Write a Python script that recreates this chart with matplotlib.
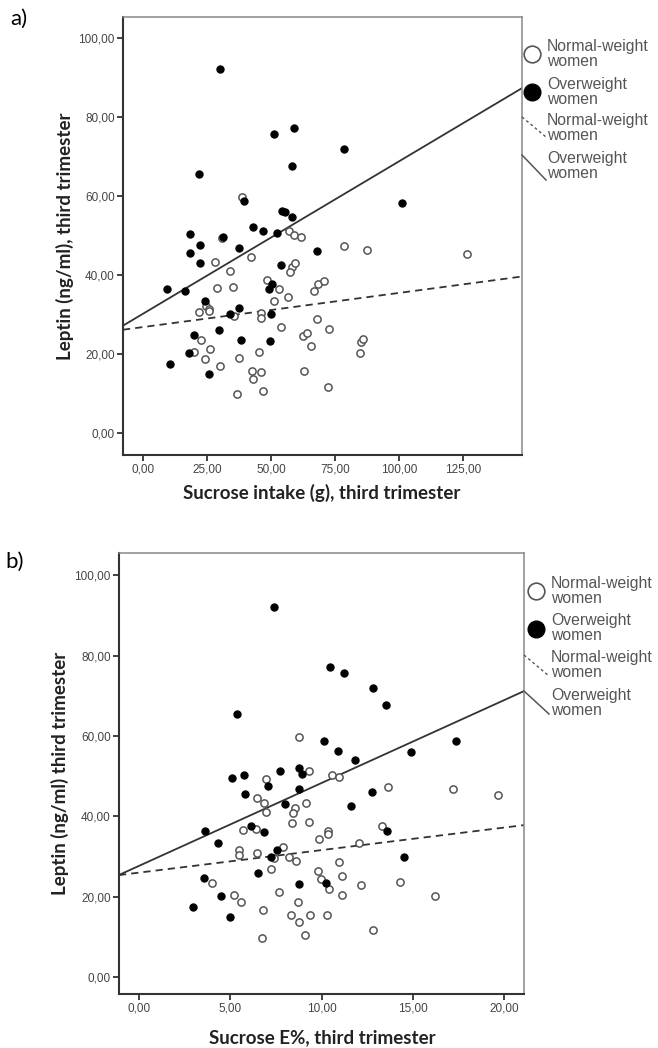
import matplotlib
matplotlib.use("Agg")
import numpy as np
from matplotlib import pyplot as plt
from matplotlib.lines import Line2D
from matplotlib.ticker import FuncFormatter

# panel a) sucrose intake (g) vs leptin
a_normal_x = [38.7, 56.8, 59.0, 61.6, 42.0, 78.5, 28.1, 87.4, 126.3, 33.7, 58.0, 59.1, 57.3,
              28.7, 35.0, 48.4, 53.0, 51.2, 56.4, 68.4, 70.5, 66.8, 24.5, 25.5, 25.7, 21.6,
              35.5, 46.1, 46.1, 53.7, 67.7, 72.4, 62.3, 63.8, 65.7, 22.7, 85.0, 86.0, 84.8,
              19.7, 26.2, 45.1, 24.2, 37.5, 29.8, 42.3, 46.0, 62.8, 42.7, 72.1, 36.8, 46.9, 30.6]
a_normal_y = [59.8, 51.2, 50.1, 49.7, 44.6, 47.4, 43.2, 46.4, 45.3, 41.1, 42.1, 43.1, 40.8,
              36.8, 36.9, 38.7, 36.4, 33.4, 34.5, 37.8, 38.5, 35.8, 32.2, 31.4, 30.8, 30.6,
              29.6, 30.3, 29.0, 26.8, 28.8, 26.4, 24.6, 25.2, 22.0, 23.4, 22.9, 23.8, 20.3,
              20.4, 21.3, 20.6, 18.7, 18.9, 16.9, 15.6, 15.5, 15.6, 13.7, 11.7, 9.9, 10.5, 49.3]
a_over_x = [30.1, 51.1, 58.7, 78.5, 21.9, 58.1, 39.5, 54.3, 55.5, 58.1, 18.1, 42.9, 46.8,
            31.0, 52.1, 22.1, 18.4, 37.3, 67.7, 101.2, 22.1, 53.9, 9.3, 16.3, 50.4, 49.2,
            24.2, 34.0, 37.4, 49.9, 29.7, 19.8, 38.0, 49.5, 17.7, 10.4, 25.7]
a_over_y = [92.1, 75.6, 77.2, 71.8, 65.5, 67.7, 58.7, 56.2, 55.9, 54.6, 50.3, 52.2, 51.2,
            49.7, 50.5, 47.6, 45.5, 46.8, 46.1, 58.2, 43.0, 42.6, 36.4, 36.0, 37.6, 36.4,
            33.5, 30.1, 31.6, 30.1, 26.1, 24.7, 23.4, 23.3, 20.2, 17.5, 15.0]
a_fit_normal = [26.8, 0.0865]   # intercept, slope
a_fit_over = [30.2, 0.386]
a_xticks = [0, 25, 50, 75, 100, 125]

# panel b) sucrose E% vs leptin
b_normal_x = [8.77, 6.93, 9.30, 10.55, 10.95, 6.47, 6.84, 6.93, 8.52, 8.41, 9.14, 8.35, 9.32,
              13.63, 17.2, 19.68, 5.68, 6.42, 10.34, 10.36, 9.85, 13.29, 12.03, 5.45, 5.45,
              6.47, 7.38, 7.88, 8.19, 8.57, 10.95, 4.00, 7.24, 9.78, 9.94, 11.1, 10.38, 12.15,
              14.29, 5.17, 5.56, 7.64, 8.68, 11.13, 16.21, 6.8, 8.32, 9.36, 10.31, 8.76, 12.81,
              9.07, 6.71]
b_normal_y = [59.8, 49.3, 51.2, 50.3, 49.7, 44.5, 43.2, 41.0, 42.1, 40.7, 43.2, 38.4, 38.7,
              47.4, 46.7, 45.4, 36.7, 36.8, 36.3, 35.7, 34.4, 37.7, 33.3, 31.5, 30.4,
              30.9, 29.7, 32.3, 30.0, 29.0, 28.7, 23.3, 26.8, 26.3, 24.5, 25.2, 22.0, 22.9,
              23.7, 20.4, 18.6, 21.1, 18.8, 20.5, 20.2, 16.8, 15.5, 15.4, 15.5, 13.6, 11.6,
              10.4, 9.7]
b_over_x = [7.40, 5.37, 10.44, 11.24, 10.11, 10.88, 5.07, 5.72, 7.07, 7.73, 8.74, 8.90, 8.75,
            11.82, 5.81, 8.00, 11.59, 12.77, 3.60, 4.33, 6.11, 6.84, 13.6, 7.57, 7.22, 14.49,
            3.56, 6.49, 8.77, 10.22, 4.46, 2.93, 4.97, 17.35, 12.8, 13.5, 14.9]
b_over_y = [92.1, 65.4, 77.2, 75.7, 58.8, 56.2, 49.6, 50.3, 47.6, 51.2, 52.1, 50.6, 46.9,
            54.0, 45.5, 43.0, 42.6, 46.0, 36.3, 33.4, 37.6, 36.0, 36.3, 31.6, 29.9, 30.0,
            24.7, 25.9, 23.1, 23.3, 20.2, 17.5, 14.9, 58.7, 71.8, 67.7, 55.9]
b_fit_normal = [26.0, 0.56]
b_fit_over = [27.7, 2.06]
b_xticks = [0, 5, 10, 15, 20]

yticks = [0, 20, 40, 60, 80, 100]
legend_labels = ["Normal-weight\nwomen", "Overweight\nwomen", "Normal-weight\nwomen", "Overweight\nwomen"]

W, H = 658, 1048
fig = plt.figure(figsize=(W / 100, H / 100), dpi=100)

def fx(px):
    return px / W

def fy(py):
    return 1 - py / H

comma = FuncFormatter(lambda v, p: ("%.2f" % v).replace(".", ","))

def panel(box, xlim, ylim, xticks, nx, ny, ox, oy, fit_n, fit_o):
    left, top, right, bottom = box
    ax = fig.add_axes([fx(left), fy(bottom), fx(right) - fx(left), fy(top) - fy(bottom)])
    ax.set_xlim(xlim)
    ax.set_ylim(ylim)
    xs = np.array(xlim)
    ax.plot(xs, fit_n[0] + fit_n[1] * xs, color="#333333", lw=1.3, ls=(0, (4, 2.8)), zorder=2)
    ax.plot(xs, fit_o[0] + fit_o[1] * xs, color="#333333", lw=1.3, zorder=2)
    ax.plot(nx, ny, "o", ms=5.2, mfc="white", mec="#555555", mew=1.1, ls="none", zorder=3)
    ax.plot(ox, oy, "o", ms=5.2, mfc="black", mec="black", mew=0.8, ls="none", zorder=4)
    ax.set_xticks(xticks)
    ax.set_yticks(yticks)
    ax.xaxis.set_major_formatter(comma)
    ax.yaxis.set_major_formatter(comma)
    ax.tick_params(direction="out", length=4, width=1.3, color="#333333", labelsize=8.5,
                   labelcolor="#444444", pad=2, top=False, right=False)
    for lab in ax.get_xticklabels() + ax.get_yticklabels():
        lab.set_family("Liberation Sans")
    for s in ["left", "bottom"]:
        ax.spines[s].set_color("#333333")
        ax.spines[s].set_linewidth(1.5)
    for s in ["top", "right"]:
        ax.spines[s].set_color("#888888")
        ax.spines[s].set_linewidth(1.1)
    return ax

def legend(mx, tx, centers, line_n, line_o):
    for i, lab in enumerate(legend_labels):
        fig.text(fx(tx), fy(centers[i]), lab, ha="left", va="center", fontsize=11.3,
                 color="#555555", family="Liberation Sans", linespacing=1.0)
    fig.add_artist(Line2D([fx(mx)], [fy(centers[0])], marker="o", ms=12, mfc="white",
                          mec="#555555", mew=1.2, ls="none"))
    fig.add_artist(Line2D([fx(mx)], [fy(centers[1])], marker="o", ms=12, mfc="black",
                          mec="black", ls="none"))
    fig.add_artist(Line2D([fx(line_n[0]), fx(line_n[2])], [fy(line_n[1]), fy(line_n[3])],
                          color="#555555", lw=1.0, ls=(0, (2, 2))))
    fig.add_artist(Line2D([fx(line_o[0]), fx(line_o[2])], [fy(line_o[1]), fy(line_o[3])],
                          color="#555555", lw=1.1))

# a)
panel((123, 17, 522, 455), (-7.9, 147.9), (-5.6, 105.3), a_xticks,
      a_normal_x, a_normal_y, a_over_x, a_over_y, a_fit_normal, a_fit_over)
legend(532, 547, [54, 92, 128, 165.5], (522, 117, 546, 137), (522, 155, 546, 180))
fig.text(fx(322), fy(493), "Sucrose intake (g), third trimester", ha="center", va="center",
         fontsize=13.5, fontweight="bold", color="#222222", family="Lato")
fig.text(fx(65), fy(236), "Leptin (ng/ml), third trimester", ha="center", va="center",
         rotation=90, fontsize=13.5, fontweight="bold", color="#222222", family="Lato")
fig.text(fx(10), fy(19), "a)", ha="left", va="center", fontsize=16, family="Lato")

# b)
panel((119, 553, 524, 994), (-1.11, 21.09), (-4.2, 105.5), b_xticks,
      b_normal_x, b_normal_y, b_over_x, b_over_y, b_fit_normal, b_fit_over)
legend(536, 551, [591, 628.5, 665, 703], (524, 655, 549, 676), (524, 691, 549, 714))
fig.text(fx(322), fy(1038), "Sucrose E%, third trimester", ha="center", va="center",
         fontsize=13.5, fontweight="bold", color="#222222", family="Lato")
fig.text(fx(60), fy(773), "Leptin (ng/ml) third trimester", ha="center", va="center",
         rotation=90, fontsize=13.5, fontweight="bold", color="#222222", family="Lato")
fig.text(fx(5), fy(562), "b)", ha="left", va="center", fontsize=16, family="Lato")

fig.savefig("out.png", dpi=100)
